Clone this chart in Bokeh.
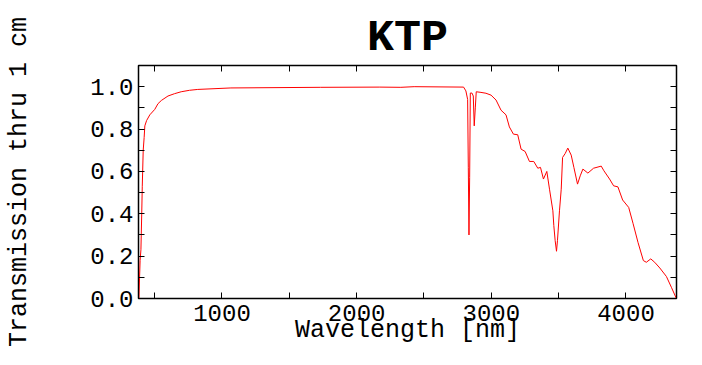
from bokeh.plotting import figure
from bokeh.models import Range1d, LinearAxis, FixedTicker, PrintfTickFormatter, Title
from bokeh.embed import file_html
from bokeh.resources import INLINE

title_text = "KTP"
x_label = "Wavelength [nm]"
y_label = "Transmission thru 1 cm"

x_major = [1000, 2000, 3000, 4000]
x_minor = [500, 1500, 2500, 3500]
y_major = [0.0, 0.2, 0.4, 0.6, 0.8, 1.0]
y_minor = [0.1, 0.3, 0.5, 0.7, 0.9]

wavelength = [383, 388, 392, 398, 404, 408, 415, 422, 427, 440, 464, 501, 525, 550,
              599, 648, 697, 759, 820, 1066, 1730, 2172, 2328, 2427, 2794, 2811,
              2824, 2829, 2834, 2839, 2844, 2856, 2866, 2873, 2881, 2888, 2923,
              2960, 2998, 3035, 3072, 3109, 3134, 3164, 3196, 3221, 3251, 3283,
              3315, 3345, 3365, 3387, 3412, 3432, 3457, 3464, 3474, 3484, 3491,
              3506, 3519, 3529, 3548, 3568, 3593, 3613, 3640, 3660, 3680, 3717,
              3759, 3816, 3836, 3878, 3908, 3940, 3975, 4020, 4052, 4089, 4129,
              4151, 4184, 4213, 4251, 4300, 4337, 4372]
transmission = [0.0, 0.10, 0.18, 0.23, 0.40, 0.53, 0.70, 0.76, 0.815, 0.84, 0.867,
                0.893, 0.92, 0.935, 0.956, 0.967, 0.976, 0.983, 0.987, 0.994, 0.997,
                0.998, 0.997, 1.0, 0.998, 0.98, 0.94, 0.62, 0.30, 0.57, 0.97, 0.97,
                0.956, 0.815, 0.90, 0.976, 0.973, 0.969, 0.96, 0.937, 0.889, 0.867,
                0.81, 0.776, 0.773, 0.705, 0.694, 0.647, 0.647, 0.615, 0.619, 0.564,
                0.60, 0.516, 0.414, 0.344, 0.273, 0.223, 0.273, 0.414, 0.516, 0.666,
                0.684, 0.71, 0.677, 0.619, 0.54, 0.579, 0.611, 0.592, 0.615, 0.625,
                0.603, 0.564, 0.532, 0.527, 0.465, 0.43, 0.355, 0.265, 0.179, 0.171,
                0.187, 0.171, 0.144, 0.104, 0.053, 0.003]

FONT = "Liberation Mono"

p = figure(width=694, height=357, output_backend="svg", toolbar_location=None,
           x_range=Range1d(380, 4375), y_range=Range1d(0, 1.1),
           min_border_left=138, min_border_right=18, min_border_top=65,
           min_border_bottom=59)
p.title = Title(text=title_text, align="center", text_font=FONT,
                text_font_size="45px", text_font_style="bold", text_color="black",
                standoff=3)
p.background_fill_color = "white"
p.border_fill_color = "white"
p.outline_line_color = "black"
p.outline_line_width = 1.5
p.xgrid.visible = False
p.ygrid.visible = False

p.line(wavelength, transmission, line_color="#ff0000", line_width=1)

def style(ax):
    ax.major_tick_in = 6
    ax.major_tick_out = 0
    ax.minor_tick_in = 6
    ax.minor_tick_out = 0
    ax.axis_line_color = "black"
    ax.major_tick_line_color = "black"
    ax.minor_tick_line_color = "black"
    ax.major_label_text_font = FONT
    ax.major_label_text_font_size = "24px"
    ax.major_label_text_color = "black"
    ax.axis_label_text_font = FONT
    ax.axis_label_text_font_size = "25px"
    ax.axis_label_text_font_style = "normal"
    ax.axis_label_text_color = "black"

xax = p.xaxis[0]
xax.ticker = FixedTicker(ticks=x_major, minor_ticks=x_minor)
xax.axis_label = x_label
xax.major_label_standoff = 6
xax.axis_label_standoff = -8
style(xax)

yax = p.yaxis[0]
yax.ticker = FixedTicker(ticks=y_major, minor_ticks=y_minor)
yax.formatter = PrintfTickFormatter(format="%.1f")
yax.axis_label = y_label
yax.major_label_standoff = 5
yax.axis_label_standoff = 53
style(yax)

# frame ticks on top and right (tick marks only, no labels)
top = LinearAxis(ticker=FixedTicker(ticks=[], minor_ticks=sorted(x_major + x_minor)))
style(top)
top.major_label_standoff = 0
p.add_layout(top, "above")

right = LinearAxis(ticker=FixedTicker(ticks=[], minor_ticks=sorted(y_major + y_minor)))
style(right)
right.major_label_standoff = 0
p.add_layout(right, "right")

open("out.html", "w").write(file_html(p, INLINE))
